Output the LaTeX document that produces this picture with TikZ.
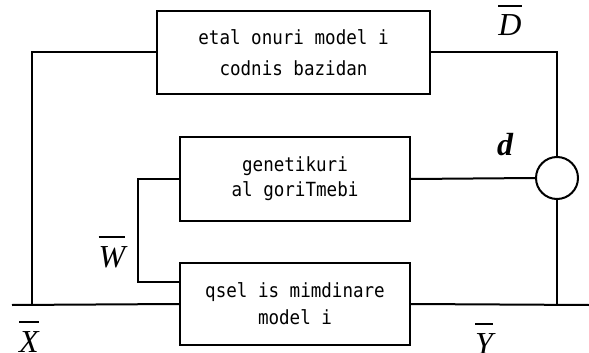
\documentclass[tikz,border=0pt]{standalone}
\usepackage{fontspec}
\setmainfont{Liberation Serif}
\newfontfamily\blockfont[FakeStretch=0.9]{DejaVu Sans Mono}
\usepackage{tikz}
\usetikzlibrary{positioning, calc}

% overlined signal name, bar a little above the letter
\newcommand{\sig}[1]{\vbox{\hrule height 2pt\kern 8pt\hbox{\itshape #1}}}

\tikzset{
	block/.style={draw, line width=2pt, rectangle, align=center, inner sep=0pt,
		font=\blockfont\fontsize{19.5}{29}\selectfont},
	wire/.style={line width=2pt},
	signame/.style={inner sep=0pt, anchor=base, font=\fontsize{32}{36}\selectfont},
}

\begin{document}
\begin{tikzpicture}[x=1pt, y=-1pt]
			\useasboundingbox (0,0) rectangle (589,353);
			
			\node[block, minimum width=273pt, minimum height=83pt] (etalon) at (293.5,52.5) {etal onuri model i\\[2pt]codnis bazidan};
			\node[block, minimum width=230pt, minimum height=84pt] (genet) at (295,179) {genetikuri\\[-4pt]al goriTmebi};
			\node[block, minimum width=230pt, minimum height=82pt] (qsel) at (295,304) {qsel is mimdinare\\[-2pt]model i};
			\node[draw, circle, line width=2pt, minimum size=42pt, inner sep=0pt] (sum) at (557,178) {};
			
			\coordinate (xin) at (12,305);
			\coordinate (xj) at (32,305);
			\coordinate (yj) at (557,305);
			\coordinate (yout) at (589,305);
			\coordinate (wbend) at (138,179);
			
			%% main line X -> Y
			\draw[wire] (xin) -- (qsel.west);
			\draw[wire] (qsel.east) -- (yout);
			\draw[wire] (xj) |- (etalon.west);
			\draw[wire] (etalon.east) -| (sum.north);
			\draw[wire] (genet.east) -- (sum.west);
			\draw[wire] (sum.south) -- (yj);
			%% W feedback into the model
			\draw[wire] (genet.west) -- (wbend) |- ([yshift=22pt]qsel.west);
			
			\node[signame] (xlab) at (29,352) {\sig{X}};
			\node[signame] (ylab) at (484,354) {\sig{Y}};
			\node[signame] (dlab) at (510,36) {\sig{D}};
			\node[signame] (wlab) at (112,267) {\sig{W}};
			\node[signame, font=\fontsize{32}{36}\selectfont\bfseries\itshape] (errlab) at (505,155) {d};
\end{tikzpicture}
\end{document}
